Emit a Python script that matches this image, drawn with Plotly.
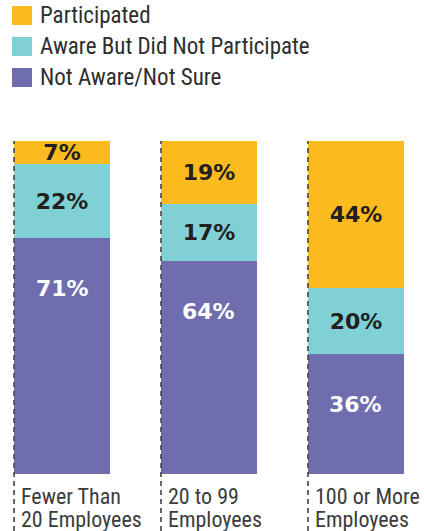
import plotly.graph_objects as go

categories = ['Fewer Than<br>20 Employees', '20 to 99<br>Employees', '100 or More<br>Employees']
not_aware = [71, 64, 36]
aware_not_participate = [22, 17, 20]
participated = [7, 19, 44]

series_names = ['Not Aware/Not Sure', 'Aware But Did Not Participate', 'Participated']
series_colors = ['#706DAF', '#7FD1D6', '#FBBA1E']
label_colors = ['#FFFFFF', '#231F20', '#231F20']

NARROW = 'Liberation Sans Narrow, Roboto Condensed, Arial Narrow, sans-serif'
BAR_W = 0.653
PLOT_H = 333
PLOT_BOTTOM = 474
LABEL_FONT = dict(family='DejaVu Sans', size=22, weight='bold')

x_idx = list(range(len(categories)))

fig = go.Figure()

for n, (name, vals, col, tcol) in enumerate(zip(series_names,
                                                [not_aware, aware_not_participate, participated],
                                                series_colors, label_colors)):
    # the bottom (purple) labels sit near the top of their segment, drawn below
    fig.add_bar(
        x=x_idx,
        y=vals,
        name=name,
        width=BAR_W,
        marker=dict(color=col, line=dict(width=0)),
        text=[f'{v}%' for v in vals] if n > 0 else None,
        textposition='inside' if n > 0 else 'none',
        insidetextanchor='middle',
        constraintext='none',
        textangle=0,
        textfont=dict(color=tcol, **LABEL_FONT),
        showlegend=False,
    )

for i, v in zip(x_idx, not_aware):
    fig.add_annotation(
        x=i, y=v, xref='x', yref='y', yshift=-36,
        text=f'{v}%', showarrow=False,
        xanchor='center', yanchor='top',
        font=dict(color=label_colors[0], **LABEL_FONT),
    )


def py(pix):
    # page pixel row -> paper y
    return (PLOT_BOTTOM - pix) / PLOT_H


# dashed guide at left edge of each bar, running down past the labels
for i in x_idx:
    fig.add_shape(
        type='line', xref='x', yref='paper',
        x0=i - BAR_W / 2, x1=i - BAR_W / 2, y0=py(531), y1=1,
        line=dict(color='#4D4D4D', width=1.7, dash='5px,4px'),
        layer='above',
    )
    lines = categories[i].split('<br>')
    for k, line in enumerate(lines):
        fig.add_annotation(
            x=i - BAR_W / 2, xref='x', xshift=5,
            y=py(496.5 + k * 22.5), yref='paper',
            text=line, showarrow=False,
            xanchor='left', yanchor='middle',
            font=dict(family=NARROW, size=22, color='#3C3C3C'),
        )

# legend drawn as swatches + text (top-left)
legend_order = [2, 1, 0]
for row, s in enumerate(legend_order):
    top = 6 + row * 31
    fig.add_shape(
        type='rect', xref='paper', yref='paper',
        x0=12 / 424, x1=32 / 424,
        y0=py(top + 19), y1=py(top),
        fillcolor=series_colors[s], line=dict(width=0),
    )
    fig.add_annotation(
        x=38 / 424, xref='paper', y=py(top + 10), yref='paper',
        text=series_names[s], showarrow=False,
        xanchor='left', yanchor='middle',
        font=dict(family=NARROW, size=23, color='#2E2E2E'),
    )

fig.update_layout(
    width=424, height=531,
    barmode='stack',
    bargap=0,
    margin=dict(l=0, r=0, t=141, b=57),
    paper_bgcolor='white',
    plot_bgcolor='white',
    showlegend=False,
    xaxis=dict(range=[-0.422, 2.463], visible=False, fixedrange=True),
    yaxis=dict(range=[0, 100], visible=False, fixedrange=True),
)

fig.write_html('out.html', config={'displayModeBar': False},
               post_script="document.body.style.margin='0';")
